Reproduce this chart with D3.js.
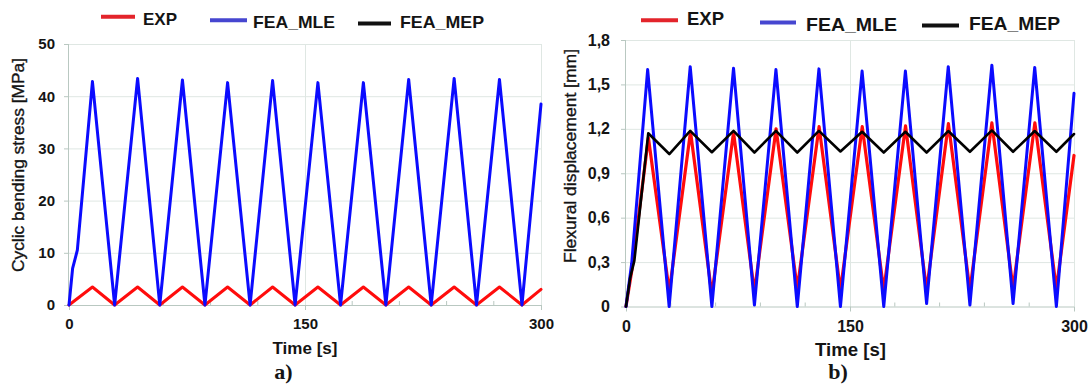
<!DOCTYPE html>
<html><head><meta charset="utf-8">
<script src="https://cdn.jsdelivr.net/npm/d3@7"></script>
<style>
body{margin:0;background:#fff;}
svg{display:block;font-family:"Liberation Sans",Arial,sans-serif;}
</style></head><body>
<svg id="c" width="1091" height="385"></svg>
<script>
// ---------- data ----------
const seriesNames = ["EXP", "FEA_MLE", "FEA_MEP"];
const xTicks = [0, 150, 300];
const xMinorTicks = [30, 60, 90, 120, 180, 210, 240, 270];

// panel a) cyclic bending stress [MPa]
const stressTicks = [0, 10, 20, 30, 40, 50];
const stressMleTime = [0, 2.3, 5.3, 14.9, 29.0, 43.6, 57.7, 72.1, 86.4, 100.8, 115.1, 129.4, 143.7, 158.2, 172.6, 187.1, 201.4, 215.9, 230.2, 244.8, 259.0, 273.6, 287.9, 300];
const stressMle = [0, 7.0, 10.5, 42.8, 0, 43.4, 0, 43.1, 0, 42.6, 0, 43.0, 0, 42.6, 0, 42.6, 0, 43.2, 0, 43.4, 0, 43.2, 0, 38.5];
const stressExpTime = [0, 14.9, 29.0, 43.6, 57.7, 72.1, 86.4, 100.8, 115.1, 129.4, 143.7, 158.2, 172.6, 187.1, 201.4, 215.9, 230.2, 244.8, 259.0, 273.6, 287.9, 300];
const stressExp = [0, 3.45, 0, 3.45, 0, 3.45, 0, 3.45, 0, 3.45, 0, 3.45, 0, 3.45, 0, 3.45, 0, 3.45, 0, 3.45, 0, 3.0];

// panel b) flexural displacement [mm]
const dispTicks = [0, 0.3, 0.6, 0.9, 1.2, 1.5, 1.8];
const dispMleTime = [0, 3.8, 14.5, 28.9, 43.0, 57.5, 72.0, 86.0, 100.4, 114.7, 129.2, 143.6, 158.1, 172.6, 187.1, 201.3, 215.8, 230.3, 245.0, 259.2, 273.7, 288.2, 300];
const dispMle = [0, 0.29, 1.60, 0, 1.62, 0, 1.61, 0.01, 1.60, 0, 1.605, 0, 1.59, 0, 1.59, 0.02, 1.62, 0.01, 1.63, 0.02, 1.615, 0, 1.44];
const dispExpTime = [0, 4.0, 15.0, 29.0, 43.2, 57.5, 72.0, 86.0, 100.5, 114.7, 129.3, 143.6, 158.2, 172.6, 187.2, 201.3, 215.9, 230.3, 245.0, 259.2, 273.8, 288.2, 300];
const dispExp = [0, 0.25, 1.14, 0.10, 1.18, 0.08, 1.175, 0.10, 1.20, 0.12, 1.215, 0.11, 1.215, 0.11, 1.22, 0.11, 1.235, 0.11, 1.24, 0.12, 1.24, 0.12, 1.02];
const dispMepTime = [0, 2.7, 5.6, 14.9, 29.0, 43.0, 57.5, 72.0, 86.0, 100.4, 114.7, 129.2, 143.6, 158.1, 172.6, 187.1, 201.3, 215.8, 230.3, 245.0, 259.2, 273.7, 288.2, 300];
const dispMep = [0, 0.19, 0.31, 1.17, 1.03, 1.186, 1.042, 1.186, 1.04, 1.186, 1.04, 1.186, 1.047, 1.18, 1.04, 1.18, 1.04, 1.185, 1.045, 1.19, 1.045, 1.185, 1.045, 1.165];

// ---------- drawing ----------
const svg = d3.select("#c");
svg.append("rect").attr("width",1091).attr("height",385).attr("fill","#fff");

const lineColors = {EXP:"#ff0c0c", FEA_MLE:"#0b0bff", FEA_MEP:"#000000"};
const legendColors = {EXP:"#e3242b", FEA_MLE:"#4646d0", FEA_MEP:"#111111"};
const gridColor = "#dfe7e3", axisColor = "#b9c8c1", textColor = "#141414";

function zip(t, v){ return t.map((d,i)=>[d, v[i]]); }

function panel(cfg){
  const x = d3.scaleLinear().domain([0,300]).range([cfg.x0, cfg.x1]);
  const y = d3.scaleLinear().domain([0, cfg.yTicks[cfg.yTicks.length-1]]).range([cfg.y0, cfg.y1]);
  const g = svg.append("g");
  const W = cfg.x1 - cfg.x0, H = cfg.y0 - cfg.y1;

  // horizontal grid
  g.append("g").attr("transform",`translate(${cfg.x0},0)`)
    .call(d3.axisLeft(y).tickValues(cfg.yTicks.slice(1)).tickSize(-W).tickFormat(""))
    .call(s=>s.select(".domain").remove())
    .call(s=>s.selectAll("line").attr("stroke",gridColor).attr("stroke-width",1));
  // vertical grid
  g.append("g").attr("transform",`translate(0,${cfg.y0})`)
    .call(d3.axisBottom(x).tickValues(xTicks.slice(1)).tickSize(-H).tickFormat(""))
    .call(s=>s.select(".domain").remove())
    .call(s=>s.selectAll("line").attr("stroke",gridColor).attr("stroke-width",1));

  // y axis
  const ya = g.append("g").attr("transform",`translate(${cfg.x0},0)`)
    .call(d3.axisLeft(y).tickValues(cfg.yTicks).tickSize(5).tickPadding(cfg.yPad).tickFormat(cfg.fmt));
  ya.select(".domain").attr("stroke",axisColor).attr("d",`M-0.5,${cfg.y0}V${cfg.y1}`);
  ya.selectAll("line").attr("stroke",axisColor);
  ya.selectAll("text").attr("fill",textColor).attr("font-size",cfg.tickFont).attr("font-weight","bold")
    .attr("font-family","'Liberation Sans',Arial,sans-serif");

  // x axis
  const xa = g.append("g").attr("transform",`translate(0,${cfg.y0})`)
    .call(d3.axisBottom(x).tickValues(xTicks).tickSize(5).tickPadding(cfg.xPad));
  xa.select(".domain").attr("stroke",axisColor).attr("d",`M${cfg.x0},0.5H${cfg.x1}`);
  xa.selectAll("line").attr("stroke",axisColor);
  xa.selectAll("text").attr("fill",textColor).attr("font-size",cfg.tickFont).attr("font-weight","bold")
    .attr("font-family","'Liberation Sans',Arial,sans-serif");
  // minor ticks (inward)
  g.append("g").selectAll("line").data(xMinorTicks).join("line")
    .attr("x1",d=>x(d)).attr("x2",d=>x(d)).attr("y1",cfg.y0).attr("y2",cfg.y0-4)
    .attr("stroke",axisColor);

  // series
  const line = d3.line().x(d=>x(d[0])).y(d=>y(d[1]));
  cfg.series.forEach(s=>{
    g.append("path").datum(zip(s.t, s.v)).attr("d",line)
      .attr("fill","none").attr("stroke",lineColors[s.name]).attr("stroke-width",s.w)
      .attr("stroke-linejoin","round").attr("stroke-linecap","round");
  });

  // y title
  svg.append("text").attr("transform",`translate(${cfg.ytX},${cfg.ytY}) rotate(-90)`)
    .attr("text-anchor","middle").attr("dy","0.35em").attr("font-size",16)
    .attr("textLength",cfg.ytLen).attr("lengthAdjust","spacingAndGlyphs")
    .attr("fill",textColor).attr("stroke",textColor).attr("stroke-width",0.35).text(cfg.yTitle);
  // x title
  svg.append("text").attr("x",cfg.xtX).attr("y",cfg.xtY).attr("text-anchor","middle")
    .attr("font-size",cfg.xtFont).attr("font-weight","bold").attr("fill",textColor)
    .attr("textLength",cfg.xtLen).attr("lengthAdjust","spacingAndGlyphs").text("Time [s]");
  // panel letter
  svg.append("text").attr("x",cfg.lbX).attr("y",379).attr("text-anchor","middle")
    .attr("font-family","'Liberation Serif','Times New Roman',serif").attr("font-weight","bold")
    .attr("font-size",22).attr("fill",textColor).text(cfg.letter);

  // legend
  seriesNames.forEach((n,i)=>{
    const L = cfg.legLines[i], T = cfg.legText[i];
    svg.append("line").attr("x1",L[0]).attr("x2",L[1]).attr("y1",L[2]).attr("y2",L[2])
      .attr("stroke",legendColors[n]).attr("stroke-width",4);
    svg.append("text").attr("x",T[0]).attr("y",T[1]).attr("font-size",cfg.legFont).attr("font-weight","bold")
      .attr("fill",textColor).attr("textLength",T[2]).attr("lengthAdjust","spacingAndGlyphs").text(n);
  });
}

const commaFmt = d => d === 0 ? "0" : d3.format(".1f")(d).replace(".", ",");

panel({
  x0:69, x1:541, y0:305, y1:44, yTicks:stressTicks, fmt:d3.format("d"),
  yPad:9, xPad:8, tickFont:15,
  yTitle:"Cyclic bending stress [MPa]", ytX:18, ytY:165, ytLen:214,
  xtX:305, xtY:354, xtFont:17, xtLen:65, lbX:283.5, letter:"a)",
  legFont:17,
  legLines:[[101,135,16.7],[210,247,20.2],[358,391,23.6]],
  legText:[[143,25,34],[253,27.8,82],[400,27.5,84]],
  series:[
    {name:"EXP", t:stressExpTime, v:stressExp, w:3},
    {name:"FEA_MLE", t:stressMleTime, v:stressMle, w:3}
  ]
});

panel({
  x0:626, x1:1074, y0:306.5, y1:40, yTicks:dispTicks, fmt:commaFmt,
  yPad:11, xPad:9, tickFont:16,
  yTitle:"Flexural displacement [mm]", ytX:570, ytY:156, ytLen:214,
  xtX:850.5, xtY:355.5, xtFont:18, xtLen:71, lbX:838, letter:"b)",
  legFont:18,
  legLines:[[641,678,20.2],[760,796,22.6],[922,959,25.4]],
  legText:[[687,25,37],[806,30.5,91],[969,30.3,91]],
  series:[
    {name:"EXP", t:dispExpTime, v:dispExp, w:3.2},
    {name:"FEA_MLE", t:dispMleTime, v:dispMle, w:3},
    {name:"FEA_MEP", t:dispMepTime, v:dispMep, w:2.6}
  ]
});
</script>
</body></html>
